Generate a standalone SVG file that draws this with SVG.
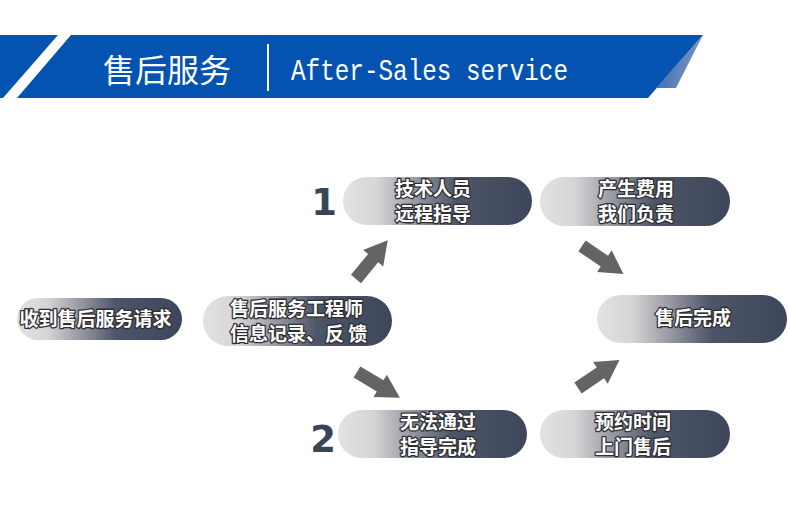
<svg xmlns="http://www.w3.org/2000/svg" xmlns:xlink="http://www.w3.org/1999/xlink" width="790" height="509" viewBox="0 0 790 509">
<defs>
<style>
.band{fill:#0453b1}
.pill{fill:url(#pg)}
.lbl{font-family:"Noto Sans CJK SC","Noto Sans",sans-serif;font-weight:700;font-size:19px;fill:#ffffff;stroke:#2e2e33;stroke-width:2.6px;paint-order:stroke;stroke-linejoin:round}
.num{font-family:"DejaVu Sans",sans-serif;font-weight:700;font-size:37px;fill:#3b4457;text-anchor:middle}
.arr{fill:#646464}
</style>
<linearGradient id="pg" x1="0" y1="0" x2="1" y2="0">
<stop offset="0" stop-color="#e4e1e2"/>
<stop offset="0.18" stop-color="#d8d5d7"/>
<stop offset="0.42" stop-color="#8b8e99"/>
<stop offset="0.6" stop-color="#4d5569"/>
<stop offset="1" stop-color="#3d465a"/>
</linearGradient>
<linearGradient id="fold" x1="0" y1="0" x2="1" y2="0.3">
<stop offset="0" stop-color="#2a62b0"/>
<stop offset="1" stop-color="#7c98c2"/>
</linearGradient>
<path id="arrow" d="M0,-6.5 L27,-6.5 L27,-13 L50,0 L27,13 L27,6.5 L0,6.5 Z"/>
</defs>
<rect width="790" height="509" fill="#ffffff"/>
<g id="header">
<polygon class="band" points="0,35 58,35 3,98 0,98"/>
<polygon class="band" points="71,35 703,35 648,98 17,98"/>
<polygon fill="url(#fold)" points="703,35 676,88 656,88"/>
<line x1="268" y1="44" x2="268" y2="91" stroke="#ffffff" stroke-width="2"/>
<text x="103" y="82" font-family="'Noto Sans CJK SC',sans-serif" font-size="32" fill="#ffffff">售后服务</text>
<text x="291" y="80" font-family="'Liberation Mono',monospace" font-size="30" fill="#ffffff" textLength="277" lengthAdjust="spacingAndGlyphs">After-Sales service</text>
</g>
<g id="connectors">
<use class="arr" href="#arrow" xlink:href="#arrow" transform="translate(356,279) rotate(-50.6)"/>
<use class="arr" href="#arrow" xlink:href="#arrow" transform="translate(582,246) rotate(34)"/>
<use class="arr" href="#arrow" xlink:href="#arrow" transform="translate(357,372) rotate(31)"/>
<use class="arr" href="#arrow" xlink:href="#arrow" transform="translate(578,388) rotate(-34)"/>
</g>
<g id="n-request">
<rect class="pill" x="17" y="298" width="165" height="42" rx="21"/>
<text class="lbl" x="95.5" y="326" text-anchor="middle">收到售后服务请求</text>
</g>
<g id="n-engineer">
<rect class="pill" x="203" y="296" width="189" height="50" rx="25"/>
<text class="lbl" x="230" y="315.5">售后服务工程师</text>
<text class="lbl" x="230" y="340.5">信息记录、反 馈</text>
</g>
<g id="n-remote">
<text class="num" x="324" y="215">1</text>
<rect class="pill" x="343" y="177" width="189" height="48" rx="24"/>
<text class="lbl" x="395" y="196">技术人员</text>
<text class="lbl" x="395" y="221">远程指导</text>
</g>
<g id="n-cost">
<rect class="pill" x="540" y="177" width="190" height="49" rx="24.5"/>
<text class="lbl" x="598" y="196">产生费用</text>
<text class="lbl" x="598" y="221">我们负责</text>
</g>
<g id="n-done">
<rect class="pill" x="597" y="295" width="190" height="48" rx="24"/>
<text class="lbl" x="693" y="325" text-anchor="middle">售后完成</text>
</g>
<g id="n-unable">
<text class="num" x="323" y="452">2</text>
<rect class="pill" x="338" y="410" width="189" height="48" rx="24"/>
<text class="lbl" x="400" y="428.5">无法通过</text>
<text class="lbl" x="400" y="453.5">指导完成</text>
</g>
<g id="n-visit">
<rect class="pill" x="540" y="410" width="190" height="48" rx="24"/>
<text class="lbl" x="595" y="428.5">预约时间</text>
<text class="lbl" x="595" y="453.5">上门售后</text>
</g>
</svg>
